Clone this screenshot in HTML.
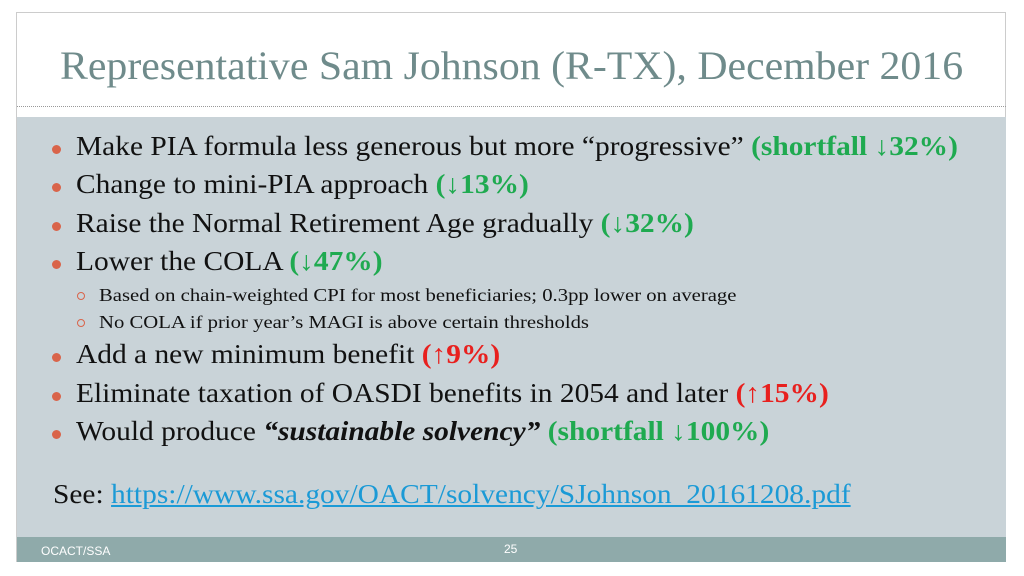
<!DOCTYPE html>
<html><head><meta charset="utf-8"><style>
body{margin:0;width:1024px;height:576px;background:#fff;position:relative;overflow:hidden;font-family:"Liberation Serif",serif}
.frame{position:absolute;left:16px;top:12px;width:990px;height:550px;border:1px solid #ccc;box-sizing:border-box}
.title{position:absolute;left:60px;top:42px;font-size:40px;color:#6f8b8b;white-space:nowrap;transform:scaleX(1.045);transform-origin:left}
.dots{position:absolute;left:17px;top:106px;width:989px;border-top:1px dotted #999}
.body{position:absolute;left:17px;top:117px;width:989px;height:420px;background:#c9d3d8}
.foot{position:absolute;left:17px;top:537px;width:989px;height:25px;background:#8faaaa;color:#fff;font-family:"Liberation Sans",sans-serif;font-size:12px}
.line{position:absolute;left:76px;font-size:27px;color:#111;white-space:nowrap;transform:scaleX(1.09);transform-origin:left}
.sub{position:absolute;left:99px;font-size:18px;color:#111;white-space:nowrap;transform:scaleX(1.15);transform-origin:left}
.b{position:absolute;left:52px;width:9px;height:9px;border-radius:50%;background:#d9644a}
.o{position:absolute;left:77px;width:8px;height:8px;border-radius:50%;border:1.5px solid #d9644a;box-sizing:border-box}
.g{color:#1faa50;font-weight:bold}.r{color:#e8201e;font-weight:bold}
a{color:#1b9ad6;text-decoration:underline}
</style></head><body>
<div class="frame"></div>
<div class="title">Representative Sam Johnson (R-TX), December 2016</div>
<div class="dots"></div>
<div class="body"></div>
<div class="b" style="top:145px"></div>
<div class="line" style="top:131px">Make PIA formula less generous but more “progressive” <span class="g">(shortfall ↓32%)</span></div>
<div class="b" style="top:183px"></div>
<div class="line" style="top:169px">Change to mini-PIA approach <span class="g">(↓13%)</span></div>
<div class="b" style="top:222px"></div>
<div class="line" style="top:208px">Raise the Normal Retirement Age gradually <span class="g">(↓32%)</span></div>
<div class="b" style="top:260px"></div>
<div class="line" style="top:246px">Lower the COLA <span class="g">(↓47%)</span></div>
<div class="o" style="top:292px"></div>
<div class="sub" style="top:285px">Based on chain-weighted CPI for most beneficiaries; 0.3pp lower on average</div>
<div class="o" style="top:319px"></div>
<div class="sub" style="top:312px">No COLA if prior year’s MAGI is above certain thresholds</div>
<div class="b" style="top:353px"></div>
<div class="line" style="top:339px">Add a new minimum benefit <span class="r">(↑9%)</span></div>
<div class="b" style="top:392px"></div>
<div class="line" style="top:378px">Eliminate taxation of OASDI benefits in 2054 and later <span class="r">(↑15%)</span></div>
<div class="b" style="top:430px"></div>
<div class="line" style="top:416px">Would produce <b><i>“sustainable solvency”</i></b> <span class="g">(shortfall ↓100%)</span></div>
<div class="line" style="left:53px;top:479px">See: <a>https://www.ssa.gov/OACT/solvency/SJohnson_20161208.pdf</a></div>
<div class="foot"><span style="position:absolute;left:24px;top:7px">OCACT/SSA</span><span style="position:absolute;left:487px;top:5px">25</span></div>
</body></html>
